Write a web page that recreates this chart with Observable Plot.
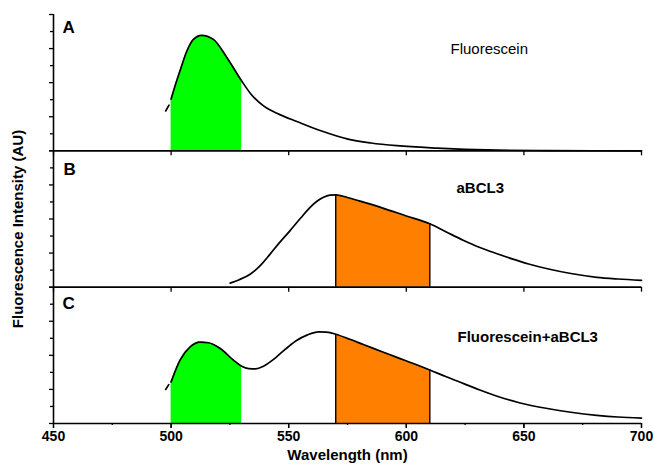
<!DOCTYPE html>
<html>
<head>
<meta charset="utf-8">
<script src="https://cdn.jsdelivr.net/npm/d3@7"></script>
<script src="https://cdn.jsdelivr.net/npm/@observablehq/plot@0.6"></script>
<style>
  html, body { margin: 0; padding: 0; background: #fff; }
  #chart svg { display: block; }
</style>
</head>
<body>
<div id="chart"></div>
<script>
// Panel order and labels
const panels = ["A", "B", "C"];
const panelTitles = ["Fluorescein", "aBCL3", "Fluorescein+aBCL3"];

// Panel A: Fluorescein emission (null = gap in the trace)
const fluoresceinNm = [497.7, 499.1, 499.5, 500, 501.7, 503.8, 506.7, 509.5, 513, 518, 523.7, 530, 534, 539.3, 546, 553.5, 564, 574.8, 585, 596, 613, 625, 639, 660, 680, 700];
const fluoresceinIntensity = [1.17, 1.34, null, 1.52, 1.91, 2.35, 2.93, 3.27, 3.39, 3.27, 2.74, 2.05, 1.66, 1.32, 1.07, 0.86, 0.58, 0.35, 0.23, 0.15, 0.08, 0.045, 0.02, 0.008, 0.003, 0.0];

// Panel B: aBCL3 emission
const abcl3Nm = [525.1, 529, 533.6, 538, 542.1, 546, 550.6, 555, 559.1, 562, 564.8, 567.5, 570, 575, 580, 590, 600, 610, 617, 624.4, 631, 638.6, 645, 652, 660, 670, 681, 690, 700];
const abcl3Intensity = [0.12, 0.22, 0.38, 0.64, 0.97, 1.3, 1.66, 2.02, 2.34, 2.52, 2.64, 2.70, 2.71, 2.63, 2.53, 2.32, 2.09, 1.86, 1.62, 1.37, 1.17, 0.98, 0.83, 0.68, 0.54, 0.40, 0.29, 0.24, 0.20];

// Panel C: Fluorescein+aBCL3 emission
const mixNm = [497.7, 499.0, 499.5, 500, 503.8, 508.1, 512.3, 515.9, 520.9, 526.5, 530, 533, 536, 539.3, 543, 546.4, 550, 553.5, 558, 562.7, 566, 570, 576, 582, 590, 596, 603, 610, 617, 624.4, 631, 638.6, 648, 660, 670, 681, 690, 700];
const mixIntensity = [1.0, 1.14, null, 1.22, 1.86, 2.25, 2.39, 2.37, 2.2, 1.86, 1.68, 1.61, 1.60, 1.68, 1.85, 2.05, 2.26, 2.44, 2.6, 2.69, 2.68, 2.62, 2.47, 2.31, 2.10, 1.94, 1.76, 1.57, 1.37, 1.17, 0.99, 0.80, 0.61, 0.44, 0.33, 0.24, 0.19, 0.16];

// Shaded detection windows
const greenWindow = [500, 530];
const orangeWindow = [570, 610];

// Axis ticks
const xMajorTicks = [450, 500, 550, 600, 650, 700];
const xMinorTicks = [475, 525, 575, 625, 675];
const yMajorTicks = [0, 1, 2, 3, 4];
const yMinorTicks = [0.5, 1.5, 2.5, 3.5];

const toRows = (panel, xs, ys) => xs.map((nm, i) => ({panel, nm, v: ys[i] == null ? NaN : ys[i]}));
const rows = [
  ...toRows("A", fluoresceinNm, fluoresceinIntensity),
  ...toRows("B", abcl3Nm, abcl3Intensity),
  ...toRows("C", mixNm, mixIntensity)
];

const greenRows = rows.filter(d => (d.panel === "A" || d.panel === "C") && d.nm >= greenWindow[0] && d.nm <= greenWindow[1]);
const orangeRows = rows.filter(d => (d.panel === "B" || d.panel === "C") && d.nm >= orangeWindow[0] && d.nm <= orangeWindow[1]);
const orangeEdges = orangeRows.filter(d => d.nm === orangeWindow[0] || d.nm === orangeWindow[1]);

const FONT = "'Liberation Sans', Arial, Helvetica, sans-serif";
const blank = () => "";
const CURVE = "monotone-x";

const chart = Plot.plot({
  width: 654,
  height: 464,
  marginLeft: 53,
  marginRight: 13,
  marginTop: 14,
  marginBottom: 41,
  style: {fontFamily: FONT, fontSize: "14px", color: "#000", background: "#fff"},
  x: {domain: [450, 700]},
  y: {domain: [0, 4]},
  fy: {domain: panels, padding: 0, axis: null, round: false},
  marks: [
    Plot.areaY(greenRows, {x: "nm", y: "v", fy: "panel", fill: "#00ff00", curve: CURVE}),
    Plot.areaY(orangeRows, {x: "nm", y: "v", fy: "panel", fill: "#ff8000", curve: CURVE}),
    Plot.ruleX(orangeEdges, {x: "nm", y1: 0, y2: "v", fy: "panel", stroke: "#000", strokeWidth: 1.4}),
    // frame lines
    Plot.ruleY([0], {stroke: "#000", strokeWidth: 1.6}),
    Plot.ruleX([450], {stroke: "#000", strokeWidth: 1.6}),
    // y ticks (no labels)
    Plot.axisY({ticks: yMajorTicks, tickSize: 4, tickFormat: blank, label: null, strokeWidth: 1.3}),
    Plot.axisY({ticks: yMinorTicks, tickSize: 3, tickFormat: blank, label: null, strokeWidth: 1.3}),
    // x ticks under every panel
    Plot.axisX({ticks: xMajorTicks, tickSize: 5, tickFormat: blank, label: null, facetAnchor: null, strokeWidth: 1.3}),
    // bottom axis with labels
    Plot.axisX({ticks: xMajorTicks, tickSize: 5, tickPadding: 3, label: null, fontSize: 14, fontWeight: "bold", strokeWidth: 1.3}),
    Plot.axisX({ticks: xMinorTicks, tickSize: 2, tickFormat: blank, label: null, strokeWidth: 1.3}),
    // spectra
    Plot.line(rows, {x: "nm", y: "v", fy: "panel", z: "panel", stroke: "#000", strokeWidth: 1.7, curve: CURVE}),
    // panel letters
    Plot.text(["A"], {fy: ["A"], text: d => d, frameAnchor: "top-left", dx: 9, dy: 6, fontSize: 17, fontWeight: "bold"}),
    Plot.text(["B"], {fy: ["B"], text: d => d, frameAnchor: "top-left", dx: 10, dy: 12.5, fontSize: 17, fontWeight: "bold"}),
    Plot.text(["C"], {fy: ["C"], text: d => d, frameAnchor: "top-left", dx: 9, dy: 10, fontSize: 17, fontWeight: "bold"}),
    // panel titles
    Plot.text([panelTitles[0]], {fy: ["A"], text: d => d, frameAnchor: "top-left", textAnchor: "start", lineAnchor: "middle", dx: 397, dy: 35, fontSize: 15}),
    Plot.text([panelTitles[1]], {fy: ["B"], text: d => d, frameAnchor: "top-left", textAnchor: "start", lineAnchor: "middle", dx: 403, dy: 37.5, fontSize: 15, fontWeight: "bold"}),
    Plot.text([panelTitles[2]], {fy: ["C"], text: d => d, frameAnchor: "top-left", textAnchor: "start", lineAnchor: "middle", dx: 404, dy: 50, fontSize: 15, fontWeight: "bold"}),
    // axis titles
    Plot.text(["Wavelength (nm)"], {fy: ["C"], text: d => d, frameAnchor: "bottom", lineAnchor: "middle", dy: 32, fontSize: 15, fontWeight: "bold"}),
    Plot.text(["Fluorescence Intensity (AU)"], {fy: ["B"], text: d => d, frameAnchor: "left", textAnchor: "middle", lineAnchor: "middle", rotate: -90, dx: -35, dy: 10, fontSize: 15, fontWeight: "bold"})
  ]
});
document.getElementById("chart").appendChild(chart);
</script>
</body>
</html>
